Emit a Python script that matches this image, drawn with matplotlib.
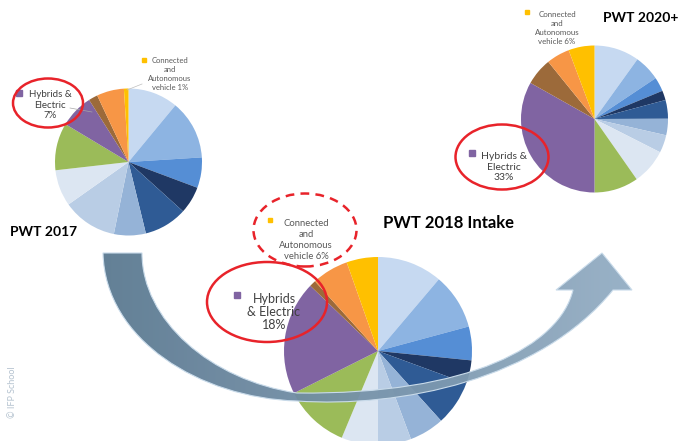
import numpy as np
import matplotlib.pyplot as plt
from matplotlib.path import Path
from matplotlib.patches import PathPatch, Ellipse
from matplotlib.colors import LinearSegmentedColormap

plt.rcParams['font.family'] = ['Lato', 'DejaVu Sans']

W, H = 678, 441

# slice colours, clockwise from 12 o'clock (last two: orange, yellow = connected & autonomous)
slice_colors = ['#c6d9f1', '#8db4e2', '#558ed5', '#1f3864', '#2f5b95', '#95b3d7',
                '#b9cde5', '#dce6f2', '#9bbb59', '#8064a2', '#9c6a3a', '#f79646', '#ffc000']

# shares (percent)
share_2017 = [11.0, 13.0, 6.7, 6.0, 9.5, 7.0, 12.0, 8.0, 10.4, 7.4, 2.0, 6.0, 1.0]
share_2018 = [11.2, 9.6, 5.8, 4.0, 7.7, 6.0, 5.7, 6.3, 11.3, 19.6, 1.1, 6.3, 5.4]
share_2020 = [9.9, 5.7, 3.1, 2.1, 4.1, 3.6, 3.9, 7.8, 9.7, 33.1, 6.0, 5.1, 5.7]

titles = ['PWT 2017', 'PWT 2018 Intake', 'PWT 2020+']
hybrid_labels = ['Hybrids &\nElectric\n7%', 'Hybrids\n& Electric\n18%', 'Hybrids &\nElectric\n33%']
cav_labels = ['Connected\nand\nAutonomous\nvehicle 1%', 'Connected\nand\nAutonomous\nvehicle 6%',
              'Connected\nand\nAutonomous\nvehicle 6%']


def Y(py):
    # picture rows (top down) -> data y (bottom up)
    return H - py


fig = plt.figure(figsize=(W / 100, H / 100), dpi=100)
ax = fig.add_axes([0, 0, 1, 1])

pies = [(share_2017, (128.5, 162), 73.5),
        (share_2018, (378, 351), 94),
        (share_2020, (594.5, 119), 73.5)]
for vals, (cx, cy), r in pies:
    ax.pie(vals, colors=slice_colors, startangle=90, counterclock=False,
           center=(cx, Y(cy)), radius=r, frame=True,
           wedgeprops=dict(linewidth=0.4, edgecolor='none'))

ax.set_xlim(0, W)
ax.set_ylim(0, H)
ax.set_aspect('auto')
ax.axis('off')

# big curved arrow
verts = [(103, 253),
         (105, 340), (200, 398), (297, 401),
         (400, 408), (540, 380), (613, 290),
         (632, 290), (602, 253), (556, 290), (573, 290),
         (560, 345), (470, 395), (297, 393),
         (210, 380), (142, 320), (142, 253),
         (103, 253)]
codes = [Path.MOVETO,
         Path.CURVE4, Path.CURVE4, Path.CURVE4,
         Path.CURVE4, Path.CURVE4, Path.CURVE4,
         Path.LINETO, Path.LINETO, Path.LINETO, Path.LINETO,
         Path.CURVE4, Path.CURVE4, Path.CURVE4,
         Path.CURVE4, Path.CURVE4, Path.CURVE4,
         Path.CLOSEPOLY]
arrow = PathPatch(Path([(x, Y(y)) for x, y in verts], codes),
                  facecolor='none', edgecolor='#c9dbea', lw=0.8, zorder=6)
ax.add_patch(arrow)
grad = LinearSegmentedColormap.from_list('arr', ['#5b7991', '#7793aa', '#95afc5'])
img = ax.imshow(np.linspace(0, 1, 256)[None, :], cmap=grad, aspect='auto',
                extent=[100, 640, Y(410), Y(248)], zorder=5, alpha=0.95)
img.set_clip_path(arrow)
ax.set_xlim(0, W)
ax.set_ylim(0, H)

# titles
ax.text(10, Y(232), titles[0], fontsize=10, fontweight='bold', va='center', ha='left')
ax.text(383, Y(223), titles[1], fontsize=12, fontweight='bold', va='center', ha='left')
ax.text(603, Y(18), titles[2], fontsize=10, fontweight='bold', va='center', ha='left')

lbl = '#404040'
# hybrids & electric labels with red ellipses
ax.text(50, Y(105), hybrid_labels[0], fontsize=7, color=lbl, ha='center', va='center',
        linespacing=1.15, zorder=8)
ax.plot([19], [Y(93)], marker='s', ms=4, color='#8064a2', zorder=8)
ax.add_patch(Ellipse((48, Y(103)), 70, 49, fill=False, ec='#e8232a', lw=1.8, zorder=9))
ax.plot([70, 92], [Y(108), Y(112)], color='#a6a6a6', lw=0.5, zorder=7)

ax.text(274, Y(312), hybrid_labels[1], fontsize=9, color=lbl, ha='center', va='center',
        linespacing=1.1, zorder=8)
ax.plot([237], [Y(295)], marker='s', ms=4.5, color='#8064a2', zorder=8)
ax.add_patch(Ellipse((267, Y(302)), 120, 80, fill=False, ec='#e8232a', lw=1.8, zorder=9))

ax.text(504, Y(167), hybrid_labels[2], fontsize=7.5, color=lbl, ha='center', va='center',
        linespacing=1.2, zorder=8)
ax.plot([472], [Y(153)], marker='s', ms=4, color='#8064a2', zorder=8)
ax.add_patch(Ellipse((502, Y(157)), 93, 65, fill=False, ec='#e8232a', lw=1.8, zorder=9))

# connected & autonomous labels
small = '#595959'
ax.text(170, Y(74), cav_labels[0], fontsize=5.5, color=small, ha='center', va='center',
        linespacing=1.3, zorder=8)
ax.plot([144], [Y(60)], marker='s', ms=3, color='#ffc000', zorder=8)
ax.plot([142, 127], [Y(84), Y(90)], color='#bfbfbf', lw=0.5, zorder=7)

ax.text(306, Y(240), cav_labels[1], fontsize=6.8, color=small, ha='center', va='center',
        linespacing=1.25, zorder=8)
ax.plot([270], [Y(220)], marker='s', ms=3.5, color='#ffc000', zorder=8)
ax.add_patch(Ellipse((305, Y(230)), 103, 73, fill=False, ec='#e8232a', lw=1.8,
                     ls=(0, (3.5, 2.5)), zorder=9))

ax.text(557, Y(28), cav_labels[2], fontsize=5.7, color=small, ha='center', va='center',
        linespacing=1.3, zorder=8)
ax.plot([527], [Y(12)], marker='s', ms=3, color='#ffc000', zorder=8)

# watermark
ax.text(13, Y(392), '\u00a9 IFP School', fontsize=6.5, color='#b4c2cf', rotation=90,
        ha='center', va='center')

fig.savefig('out.png', dpi=100)
